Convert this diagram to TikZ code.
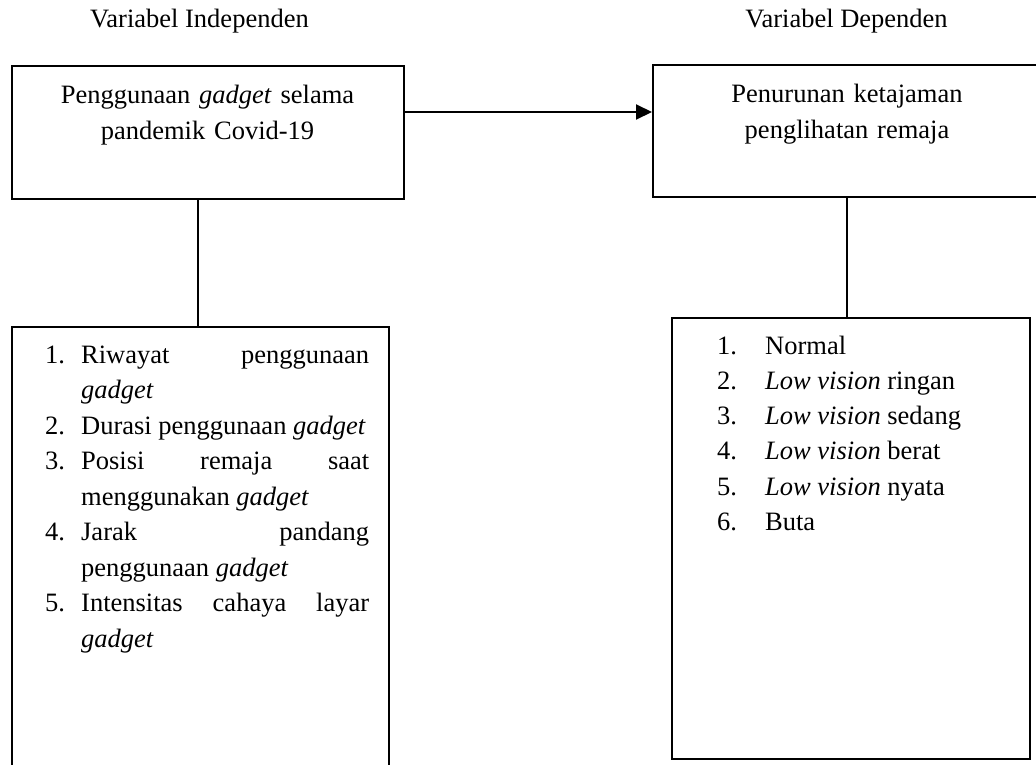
\documentclass[tikz,border=0pt]{standalone}
\usepackage{fontspec}
\setmainfont{Liberation Serif}
\usetikzlibrary{arrows.meta}
\tikzset{
  boxshape/.style={draw=black, line width=2pt, rectangle, inner sep=0pt},
  headtext/.style={inner sep=0pt, text width=380pt, align=center, anchor=north,
    font=\fontsize{26.5}{36}\selectfont},
  listtext/.style={inner sep=0pt, anchor=north west, align=justify,
    font=\fontsize{26.5}{35.5}\selectfont},
  titletext/.style={inner sep=0pt, anchor=base, font=\fontsize{26.5}{35.5}\selectfont},
  conn/.style={draw=black, line width=2pt}
}
\newcommand{\itemC}[2]{\noindent\hangindent=36pt\hangafter=1\strut\makebox[36pt][l]{#1}#2\par}
\newcommand{\itemD}[2]{\noindent\strut\makebox[48pt][l]{#1}#2\par}
\begin{document}
\begin{tikzpicture}[x=1pt,y=-1pt]
\useasboundingbox (0,0) rectangle (1036,764);
\fill[white] (0,0) rectangle (1036,764);

% titles
\node[titletext] (t1) at (199.5,27) {Variabel Independen};
\node[titletext] (t2) at (846.5,27) {Variabel Dependen};

% boxes
\node[boxshape, minimum width=392pt, minimum height=133pt] (a) at (208,132.5) {};
\node[boxshape, minimum width=387pt, minimum height=132pt] (b) at (846.5,131) {};
\node[boxshape, minimum width=377pt, minimum height=453pt] (c) at (200.5,553.5) {};
\node[boxshape, minimum width=358pt, minimum height=441pt] (d) at (851,538.5) {};

% box texts
\node[headtext] (at) at (207.5,77.8) {\strut Penggunaan \textit{gadget} selama\\pandemik Covid-19};
\node[headtext] (bt) at (847,76.8) {\strut Penurunan ketajaman\\penglihatan remaja};

\node[listtext, text width=324pt] (ct) at (45,338.15) {%
\hbadness=10000\hyphenpenalty=10000\tolerance=10000\emergencystretch=0pt\parskip=0pt%
\itemC{1.}{Riwayat penggunaan\linebreak \textit{gadget}}%
\itemC{2.}{Durasi penggunaan \textit{gadget}}%
\itemC{3.}{Posisi remaja saat\linebreak menggunakan \textit{gadget}}%
\itemC{4.}{Jarak pandang\linebreak penggunaan \textit{gadget}}%
\itemC{5.}{Intensitas cahaya layar\linebreak \textit{gadget}}%
};

\node[listtext, text width=300pt, font=\fontsize{26.5}{35.2}\selectfont] (dt) at (717,329.36) {%
\parskip=0pt%
\itemD{1.}{Normal}%
\itemD{2.}{\textit{Low vision} ringan}%
\itemD{3.}{\textit{Low vision} sedang}%
\itemD{4.}{\textit{Low vision} berat}%
\itemD{5.}{\textit{Low vision} nyata}%
\itemD{6.}{Buta}%
};

% connectors
\draw[conn, -{Triangle[length=16pt,width=15pt]}] ([yshift=20.5pt]a.east) -- ([yshift=20.5pt]a.east -| b.west);
\draw[conn] ([xshift=-10.5pt]a.south) -- ([xshift=-10.5pt]a.south |- c.north);
\draw[conn] (b.south) -- (b.south |- d.north);
\end{tikzpicture}
\end{document}
